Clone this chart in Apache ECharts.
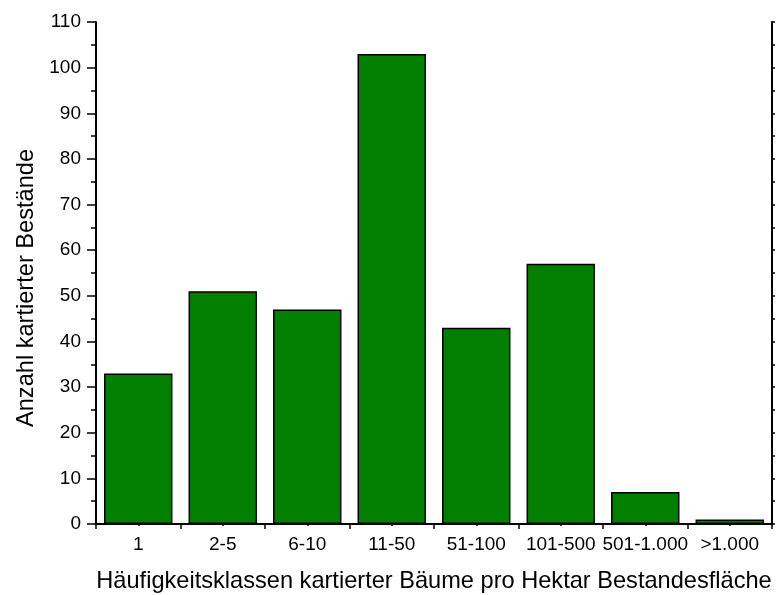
<!DOCTYPE html>
<html><head><meta charset="utf-8">
<script src="https://cdn.jsdelivr.net/npm/echarts@6/dist/echarts.min.js"></script>
<style>html,body{margin:0;padding:0;background:#fff}#c{width:778px;height:595px}</style>
</head><body><div id="c"></div>
<script>
const categories = ['1','2-5','6-10','11-50','51-100','101-500','501-1.000','>1.000'];
const counts = [33, 51, 47, 103, 43, 57, 7, 1];
const xTitle = 'Häufigkeitsklassen kartierter Bäume pro Hektar Bestandesfläche';
const yTitle = 'Anzahl kartierter Bestände';

const font = 'Liberation Sans, Arial, sans-serif';
const chart = echarts.init(document.getElementById('c'), null, {renderer:'canvas'});
const axisLine = {show:true, lineStyle:{color:'#000', width:2}};
chart.setOption({
  animation:false,
  backgroundColor:'#fff',
  grid:{left:96, right:6, top:22, bottom:71, containLabel:false, outerBoundsMode:'none'},
  xAxis:[{
    type:'category', data:categories, position:'bottom',
    axisLine:axisLine,
    axisTick:{show:true, inside:false, length:5, lineStyle:{color:'#000', width:1.5}},
    axisLabel:{color:'#000', fontSize:19, fontFamily:font, margin:11, interval:0},
    name:xTitle, nameLocation:'middle', nameGap:45,
    nameTextStyle:{color:'#000', fontSize:23.6, fontFamily:font},
    splitLine:{show:false}
  },{
    type:'value', position:'top', min:0, max:16, interval:1,
    axisLine:axisLine,
    axisTick:{show:true, inside:true, length:2, lineStyle:{color:'#000', width:1.5}},
    axisLabel:{show:false}, splitLine:{show:false}
  }],
  yAxis:[{
    type:'value', min:0, max:110, interval:10, position:'left',
    axisLine:axisLine,
    axisTick:{show:true, inside:false, length:9, lineStyle:{color:'#000', width:1.5}},
    minorTick:{show:true, splitNumber:2, length:5, lineStyle:{color:'#000', width:1.5}},
    axisLabel:{color:'#000', fontSize:19, fontFamily:font, margin:15},
    name:yTitle, nameLocation:'middle', nameGap:58, nameRotate:90,
    nameTextStyle:{color:'#000', fontSize:23.6, fontFamily:font, padding:[0,30,0,0]},
    splitLine:{show:false}
  },{
    type:'value', min:0, max:110, interval:10, position:'right',
    axisLine:axisLine,
    axisTick:{show:true, inside:false, length:3, lineStyle:{color:'#000', width:1.5}},
    minorTick:{show:true, splitNumber:2, length:3, lineStyle:{color:'#000', width:1.5}},
    axisLabel:{show:false}, splitLine:{show:false}
  }],
  series:[{
    type:'bar', data:counts, xAxisIndex:0, yAxisIndex:0,
    barCategoryGap:'19%',
    itemStyle:{color:'#007f00', borderColor:'#000', borderWidth:1.5}
  }]
});
</script></body></html>
